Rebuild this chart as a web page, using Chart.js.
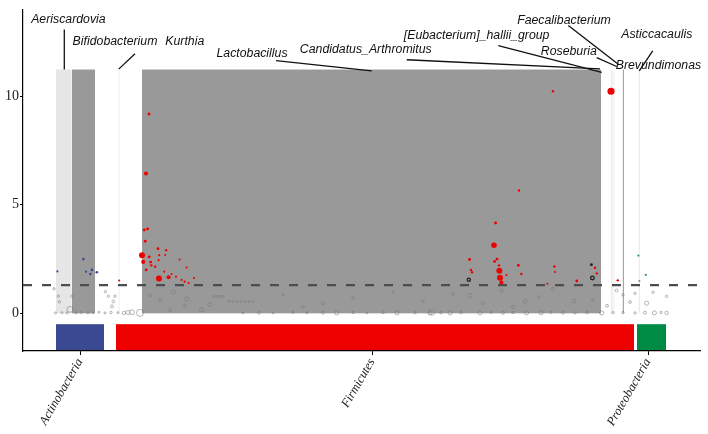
<!DOCTYPE html>
<html>
<head>
<meta charset="utf-8">
<script src="https://cdn.jsdelivr.net/npm/chart.js@4.4.0/dist/chart.umd.min.js"></script>
<style>body{margin:0;background:#fff}</style>
</head>
<body>
<canvas id="chart" width="708" height="434"></canvas>
<script>
// OTU order on x, -log10(p) on y
const phylumNames = ['Actinobacteria', 'Firmicutes', 'Proteobacteria'];
const phylumStart = [16.5, 46.5, 307];
const phylumEnd = [40.5, 305.5, 321.5];
const phylumTick = [28.5, 174.5, 312.5];
const phylumColor = ['#3B4992', '#EE0000', '#008B45'];

const genusNames = ['Aeriscardovia', 'Bifidobacterium', 'Kurthia', 'Lactobacillus', 'Roseburia', '[Eubacterium]_hallii_group', 'Faecalibacterium', 'Brevundimonas'];
const genusStart = [16.5, 24.5, 47.75, 59.5, 294.2, 295.3, 299.9, 307.9];
const genusEnd = [24.25, 36, 48.25, 289, 294.7, 295.7, 300.5, 308.3];
const genusFill = ['#e6e6e6', '#999999', '#f0f0f0', '#999999', '#dedede', '#ececec', '#a6a6a6', '#e0e0e0'];
const genusTop = 11.23;

const threshold = 1.301;

// significant OTUs (Firmicutes)
const redX = [63, 61.5, 60.6, 62.3, 61.1, 59.5, 60.1, 63.1, 63.8, 61.6, 67.5, 71.6, 68.1, 71.1, 64.1, 66.1, 67.8, 68, 72.8, 70.6, 74.3, 76.5, 78.3, 81.8, 79.3, 80.8, 82.8, 85.5, 48.1,
  265, 294, 248, 236.3, 235.5, 237, 235.8, 223.3, 224, 224.5, 238, 238.2, 238.5, 239.2, 241.7, 247.7, 249.2, 265.7, 266, 276.9, 286, 286.9, 297.4, 262.2];
const redY = [9.18, 6.44, 3.84, 3.89, 3.32, 2.68, 2.37, 2.60, 2.36, 2.0, 2.98, 2.91, 2.68, 2.69, 2.21, 2.15, 2.45, 1.60, 1.66, 1.92, 1.81, 1.69, 2.48, 2.11, 1.54, 1.46, 1.40, 1.63, 1.51,
  10.23, 10.23, 5.66, 4.16, 3.14, 2.50, 2.39, 2.48, 2.0, 1.89, 2.21, 1.96, 1.64, 1.42, 1.77, 2.21, 1.81, 2.16, 1.90, 1.49, 2.10, 1.84, 1.52, 1.36];
const redSize = [2, 3, 2, 2, 2, 4, 3, 2, 2, 2, 2, 1.5, 1, 1, 1.5, 1.5, 1, 4, 3, 1, 1, 1, 1, 1, 1, 1, 1, 1, 1,
  1.5, 4.5, 1.5, 2, 3.8, 2, 2, 2, 1.5, 1.5, 1.5, 4, 4, 3, 1, 2, 1.5, 1.5, 1, 2, 1.5, 1.5, 1.5, 1];

const blueX = [17.2, 30.2, 31.5, 34.5, 33.7, 36.9];
const blueY = [1.93, 2.5, 1.92, 2.0, 1.81, 1.89];
const blueSize = [1.2, 1.8, 1.2, 1.8, 1.5, 1.8];

const greenX = [307.7, 311.4, 308.2];
const greenY = [2.66, 1.77, 1.49];
const greenSize = [1.2, 1.2, 1.2];

const blackX = [284.2, 284.7, 222.9];
const blackY = [2.24, 1.63, 1.55];
const blackSize = [2, 2.6, 2.3];

// non-significant OTUs
const greyX = [15.5, 17.7, 18.2, 24.4, 41.2, 42.7, 46, 45.2, 44.5, 23.5, 58.5, 54.5, 16.2, 19.5, 22, 26.5, 29, 32.5, 35, 38, 41, 44, 47.5, 50.5, 52.5,
  75.2, 81.8, 93.5, 89.3, 81, 68.5, 63.5, 73.5, 95.5, 97, 98.5, 100, 103, 105, 107, 109, 111, 113, 115,
  110, 118, 125, 135, 142, 150, 156.8, 165, 172, 180, 187, 196, 203.5, 204.4, 209, 213.5, 219, 228.5, 234, 240, 245, 251.8, 259, 264, 270, 276, 282, 289.3, 295, 300, 306, 311, 315.7, 319, 321.8,
  223.5, 239.3, 251, 265, 275.5, 296.8, 303.5, 311.8, 315, 321.8, 215, 230, 245, 258, 285, 292, 300, 306, 150, 165, 185, 200, 130, 140];
const greyY = [1.13, 0.79, 0.53, 0.79, 1.0, 0.79, 0.79, 0.55, 0.32, 0.18, 0.02, 0.05, 0.02, 0.03, 0.02, 0.02, 0.04, 0.02, 0.03, 0.05, 0.02, 0.04, 0.03, 0.02, 0.04,
  0.97, 0.67, 0.41, 0.17, 0.37, 0.59, 0.82, 0.14, 0.78, 0.78, 0.78, 0.78, 0.55, 0.55, 0.55, 0.55, 0.55, 0.55, 0.55,
  0.02, 0.03, 0.02, 0.05, 0.02, 0.03, 0.02, 0.04, 0.02, 0.05, 0.02, 0.03, 0.02, 0.05, 0.03, 0.02, 0.04, 0.02, 0.05, 0.02, 0.04, 0.02, 0.03, 0.05, 0.03, 0.02, 0.04, 0.02, 0.03, 0.04, 0.02, 0.03, 0.02, 0.04, 0.02,
  0.82, 1.05, 0.56, 1.13, 0.56, 1.05, 0.52, 0.47, 0.97, 0.78, 0.9, 0.45, 0.3, 0.75, 0.6, 0.35, 0.85, 0.92, 0.45, 0.7, 1.0, 0.55, 0.85, 0.3];
const greySize = [1.5, 1.5, 1.5, 1.5, 1.5, 1.5, 1.5, 2, 2, 4, 4.5, 3.5, 1, 1, 1, 1, 1, 1, 1, 1, 1, 1.5, 1, 2.5, 3,
  3, 3, 3, 3, 2, 2, 2, 2, 1, 1, 1, 1, 1, 1, 1, 1, 1, 1, 1,
  1, 2, 1, 1.5, 1, 2, 3, 1.5, 1, 2, 3, 1.5, 3, 4, 1.5, 3, 2, 3, 1.5, 2, 1.5, 3, 3, 1.5, 2, 1.5, 2, 3, 1.5, 1.5, 1.5, 2, 3, 1.5, 2.5,
  3, 2.5, 3, 2, 3, 2, 2, 3, 1.5, 1.5, 2, 2, 2.5, 2, 2, 2, 1.5, 1.5, 2, 2, 1.5, 2, 1.5, 2];

// genus label annotations (data units): text centre and leader segment
const labelText = ['Aeriscardovia', 'Bifidobacterium', 'Kurthia', 'Lactobacillus', 'Candidatus_Arthromitus', '[Eubacterium]_hallii_group', 'Roseburia', 'Faecalibacterium', 'Asticcacaulis', 'Brevundimonas'];
const labelX = [22.7, 46, 80.9, 114.5, 171.4, 226.8, 272.9, 270.5, 316.9, 317.7];
const labelY = [13.53, 12.51, 12.51, 11.98, 12.16, 12.79, 12.04, 13.48, 12.82, 11.43];
const leaders = [
  [20.65, 13.07, 20.65, 11.23], null, [56, 11.96, 47.85, 11.25], [126.5, 11.64, 174.35, 11.17],
  [191.85, 11.68, 288.5, 11.26], [237.65, 12.33, 289.35, 11.1], [286.85, 11.78, 296.85, 11.37],
  [272.65, 13.26, 297.65, 11.47], [314.85, 12.09, 308.15, 11.17], null
];

const pts = (xs, ys) => xs.map((v, i) => ({x: v, y: ys[i]}));
const rad = s => 0.9 + 0.13 * s * s;

const backdrop = {
  id: 'backdrop',
  beforeDatasetsDraw(chart) {
    const {ctx, scales: {x, y}} = chart;
    ctx.save();
    const yb = y.getPixelForValue(0), yt = y.getPixelForValue(genusTop);
    genusNames.forEach((g, i) => {
      const x0 = x.getPixelForValue(genusStart[i]), x1 = x.getPixelForValue(genusEnd[i]);
      ctx.fillStyle = genusFill[i];
      ctx.fillRect(x0, yt, x1 - x0, yb - yt);
    });
    const pt = y.getPixelForValue(-0.5), pb = y.bottom - 1;
    phylumNames.forEach((p, i) => {
      const x0 = x.getPixelForValue(phylumStart[i]), x1 = x.getPixelForValue(phylumEnd[i]);
      ctx.fillStyle = phylumColor[i];
      ctx.fillRect(x0, pt, x1 - x0, pb - pt);
    });
    ctx.restore();
  },
  afterDatasetsDraw(chart) {
    const {ctx, scales: {x, y}} = chart;
    ctx.save();
    ctx.strokeStyle = '#111';
    ctx.lineWidth = 1.3;
    leaders.forEach(l => {
      if (!l) return;
      ctx.beginPath();
      ctx.moveTo(x.getPixelForValue(l[0]), y.getPixelForValue(l[1]));
      ctx.lineTo(x.getPixelForValue(l[2]), y.getPixelForValue(l[3]));
      ctx.stroke();
    });
    ctx.fillStyle = '#111';
    ctx.font = 'italic 12.3px "Liberation Sans", Arial, sans-serif';
    ctx.textAlign = 'center';
    ctx.textBaseline = 'middle';
    labelText.forEach((t, i) => {
      ctx.fillText(t, x.getPixelForValue(labelX[i]), y.getPixelForValue(labelY[i]));
    });
    ctx.restore();
  }
};

const serif = '"Liberation Serif", "Times New Roman", serif';

new Chart(document.getElementById('chart'), {
  type: 'scatter',
  data: {
    datasets: [
      {data: pts(redX, redY), backgroundColor: '#EE0000', borderWidth: 0,
        pointRadius: redSize.map(rad), order: 0},
      {data: pts(blackX, blackY), backgroundColor: ['#222', 'rgba(0,0,0,0)', 'rgba(0,0,0,0)'], borderColor: '#222',
        borderWidth: [0, 1.4, 1.3], pointRadius: blackSize.map(rad), order: 1},
      {data: pts(blueX, blueY), backgroundColor: '#3B4992', borderWidth: 0,
        pointRadius: blueSize.map(rad), order: 1},
      {data: pts(greenX, greenY), backgroundColor: ['#2a9a6a', '#2a9a6a', '#6a9a8a'], borderWidth: 0,
        pointRadius: greenSize.map(rad), order: 1},
      {type: 'line', data: [{x: 0, y: threshold}, {x: 338.5, y: threshold}], borderColor: '#4d4d4d',
        borderWidth: 2.4, borderDash: [9, 10], pointRadius: 0, order: 2},
      {data: pts(greyX, greyY), backgroundColor: 'rgba(0,0,0,0)', borderColor: 'rgba(120,120,120,0.6)',
        borderWidth: 0.9, pointRadius: greySize.map(rad), order: 3}
    ]
  },
  options: {
    responsive: false,
    animation: false,
    devicePixelRatio: 1,
    layout: {padding: {top: 7, right: 8, left: 0, bottom: 0}},
    plugins: {legend: {display: false}, tooltip: {enabled: false}},
    scales: {
      x: {
        type: 'linear', min: 0, max: 338.5,
        afterBuildTicks: axis => { axis.ticks = phylumTick.map(v => ({value: v})); },
        afterFit: axis => { axis.height = 83; },
        grid: {drawOnChartArea: false, color: '#000', tickLength: 4},
        border: {color: '#000', width: 1.2},
        ticks: {
          autoSkip: false, maxRotation: 60, minRotation: 60, padding: 1, color: '#222',
          font: {family: serif, size: 12.5, style: 'italic'},
          callback: (v, i) => phylumNames[i]
        }
      },
      y: {
        min: -1.735, max: 14,
        afterBuildTicks: axis => { axis.ticks = [0, 5, 10].map(v => ({value: v})); },
        afterFit: axis => { axis.width = 23; },
        grid: {drawOnChartArea: false, color: '#000', tickLength: 3},
        border: {color: '#000', width: 1.2},
        ticks: {padding: 1, color: '#222', font: {family: serif, size: 14}}
      }
    }
  },
  plugins: [backdrop]
});
</script>
</body>
</html>
